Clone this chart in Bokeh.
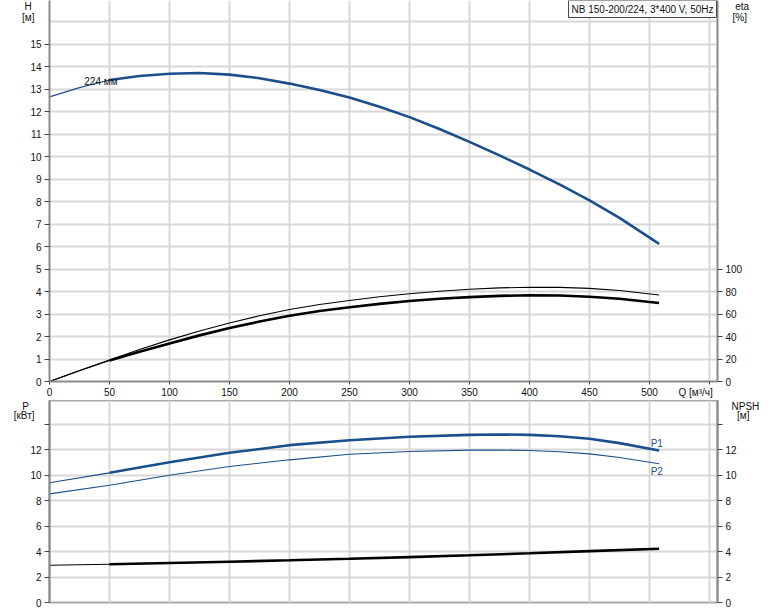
from bokeh.plotting import figure
from bokeh.models import Range1d, LinearAxis, FixedTicker, Label
from bokeh.layouts import column
from bokeh.embed import file_html
from bokeh.resources import INLINE

# ---------------- data ----------------
q_head = [0, 25, 50, 75, 100, 125, 150, 175, 200, 225, 250, 275, 300, 325, 350, 375, 400, 425, 450, 475, 508]
head = [12.65, 13.06, 13.4, 13.58, 13.68, 13.71, 13.64, 13.48, 13.24, 12.96, 12.62, 12.21, 11.75, 11.22, 10.65, 10.05, 9.42, 8.76, 8.05, 7.27, 6.12]

q_eta = [0, 25, 50, 75, 100, 125, 150, 175, 200, 225, 250, 275, 300, 325, 350, 375, 400, 425, 450, 475, 508]
eta_upper = [0, 9.8, 19.2, 28.4, 37.0, 44.9, 52.0, 58.4, 64.0, 68.4, 72.0, 75.3, 78.0, 80.2, 82.0, 83.2, 83.8, 83.7, 82.8, 80.9, 76.9]
eta_lower = [0, 9.5, 18.6, 26.5, 33.8, 41.0, 47.5, 53.3, 58.5, 62.6, 66.0, 69.0, 71.5, 73.5, 75.0, 76.1, 76.7, 76.5, 75.4, 73.5, 69.8]

q_pow = [0, 50, 100, 150, 200, 250, 300, 350, 375, 400, 425, 450, 475, 508]
p1_vals = [9.39, 10.17, 11.0, 11.74, 12.34, 12.73, 13.0, 13.15, 13.18, 13.15, 13.04, 12.84, 12.5, 11.92]
p2_vals = [8.52, 9.2, 9.98, 10.67, 11.19, 11.63, 11.84, 11.95, 11.96, 11.92, 11.82, 11.66, 11.37, 10.88]

q_npsh = [0, 50, 100, 150, 200, 250, 300, 350, 400, 450, 508]
npsh = [2.92, 3.0, 3.1, 3.2, 3.31, 3.43, 3.56, 3.7, 3.86, 4.03, 4.22]

q_ticks = [0, 50, 100, 150, 200, 250, 300, 350, 400, 450, 500, 550]
h_ticks = list(range(0, 16))
eta_ticks = [0, 20, 40, 60, 80, 100]
p_ticks = [0, 2, 4, 6, 8, 10, 12, 14]

title_text = "NB 150-200/224, 3*400 V, 50Hz"
curve_label = "224 мм"
q_label = "Q [м³/ч]"
NB = "\u00a0"

# ---------------- style ----------------
FONT = "Liberation Sans"
FS = "10px"
BLUE = "#1a4f8b"
BLACK = "#000000"
GRID = "#d8d8d8"
AXIS = "#8a8a8a"
THICK = 2.6
THIN = 1.1
W = 766
BL, BR = 49, 49

x_end = (W - BL - BR) / 1.2


def style_axis(ax, line_color=AXIS):
    ax.axis_line_color = line_color
    ax.axis_line_width = 2
    ax.major_tick_line_color = "#444444"
    ax.major_tick_out = 5
    ax.major_tick_in = 0
    ax.minor_tick_line_color = None
    ax.major_label_text_font = FONT
    ax.major_label_text_font_size = FS
    ax.major_label_text_color = "#111111"
    ax.major_label_standoff = 3


def label_axis(p, side, ticks, texts, standoff=0, y_range_name="default"):
    ax = LinearAxis(y_range_name=y_range_name, ticker=FixedTicker(ticks=ticks),
                    major_label_overrides=dict(zip(ticks, texts)))
    ax.axis_line_color = None
    ax.major_tick_line_color = None
    ax.minor_tick_line_color = None
    ax.major_tick_out = 0
    ax.major_tick_in = 0
    ax.major_label_standoff = standoff
    ax.major_label_text_font = FONT
    ax.major_label_text_font_size = FS
    ax.major_label_text_color = "#111111"
    p.add_layout(ax, side)
    return ax


def thick_part(qs, vs, start=50):
    xs = [q for q in qs if q >= start]
    ys = [v for q, v in zip(qs, vs) if q >= start]
    return xs, ys


def data_label(p, x, y, text, align="left", color="#111111"):
    p.add_layout(Label(x=x, y=y, text=text, text_align=align, text_baseline="middle",
                       text_font=FONT, text_font_size=FS, text_color=color))


# ---------------- top figure (H / eta) ----------------
H1 = 400
BB1 = 19
y1_end = (H1 - BB1) / 22.5
p = figure(width=W, height=H1, output_backend="svg", toolbar_location=None,
           x_range=Range1d(0, x_end), y_range=Range1d(0, y1_end),
           min_border_left=BL, min_border_right=BR, min_border_top=0, min_border_bottom=BB1)
p.outline_line_color = None

p.extra_y_ranges = {"eta": Range1d(0, y1_end * 20)}
eta_axis = LinearAxis(y_range_name="eta")
p.add_layout(eta_axis, "right")

p.xaxis.ticker = FixedTicker(ticks=q_ticks)
p.xaxis.major_label_overrides = {550: q_label + NB * 10}
p.yaxis.ticker = FixedTicker(ticks=h_ticks)
eta_axis.ticker = FixedTicker(ticks=eta_ticks)
for ax in [p.xaxis[0], p.yaxis[0], eta_axis]:
    style_axis(ax)
p.xaxis.major_tick_out = 3
p.xaxis.major_label_standoff = 2

label_axis(p, "left", [16.7, 16.2], ["H" + NB, "[м]"], standoff=-7)
label_axis(p, "right", [16.7 * 20, 16.2 * 20], [NB + "eta", "[%]"], standoff=-13, y_range_name="eta")

p.xgrid.ticker = FixedTicker(ticks=q_ticks[1:])
p.ygrid.ticker = FixedTicker(ticks=list(range(1, 17)))
p.xgrid.grid_line_color = GRID
p.ygrid.grid_line_color = GRID
p.xgrid.grid_line_width = 2
p.ygrid.grid_line_width = 2

# head curve
p.line(q_head, head, line_color=BLUE, line_width=THIN)
xs, ys = thick_part(q_head, head)
p.line(xs, ys, line_color=BLUE, line_width=THICK)

# efficiency curves
p.line(q_eta, eta_upper, line_color=BLACK, line_width=THIN, y_range_name="eta")
p.line(q_eta, eta_lower, line_color=BLACK, line_width=THIN, y_range_name="eta")
xs, ys = thick_part(q_eta, eta_lower)
p.line(xs, ys, line_color=BLACK, line_width=THICK, y_range_name="eta")

data_label(p, 29, 13.34, curve_label)

p.add_layout(Label(x=716, y=0, x_units="canvas", y_units="canvas", text=title_text,
                   text_align="right", text_baseline="top",
                   text_font=FONT, text_font_size=FS, text_color="#111111",
                   background_fill_color="white", border_line_color="#444444",
                   border_line_width=1, padding=3))

# ---------------- bottom figure (P / NPSH) ----------------
H2 = 210
BB2 = 8
y2_end = (H2 - BB2) / 12.75
p2 = figure(width=W, height=H2, output_backend="svg", toolbar_location=None,
            x_range=Range1d(0, x_end), y_range=Range1d(0, y2_end),
            min_border_left=BL, min_border_right=BR, min_border_top=0, min_border_bottom=BB2)
p2.outline_line_color = "#a8a8a8"
p2.outline_line_width = 2
p2.xaxis.visible = False

p2.extra_y_ranges = {"npsh": Range1d(0, y2_end)}
npsh_axis = LinearAxis(y_range_name="npsh")
p2.add_layout(npsh_axis, "right")

p2.yaxis.ticker = FixedTicker(ticks=p_ticks)
npsh_axis.ticker = FixedTicker(ticks=p_ticks)
for ax in [p2.yaxis[0], npsh_axis]:
    style_axis(ax)
    ax.major_label_overrides = {14: ""}

label_axis(p2, "left", [15.5, 14.65], ["P" + NB * 2, "[кВт]"], standoff=-7)
label_axis(p2, "right", [15.5, 14.65], ["NPSH", NB * 2 + "[м]"], standoff=-8, y_range_name="npsh")

p2.xgrid.ticker = FixedTicker(ticks=q_ticks[1:])
p2.ygrid.ticker = FixedTicker(ticks=p_ticks[1:])
p2.xgrid.grid_line_color = GRID
p2.ygrid.grid_line_color = GRID
p2.xgrid.grid_line_width = 2
p2.ygrid.grid_line_width = 2

p2.line(q_pow, p1_vals, line_color=BLUE, line_width=THIN)
xs, ys = thick_part(q_pow, p1_vals)
p2.line(xs, ys, line_color=BLUE, line_width=THICK)
p2.line(q_pow, p2_vals, line_color=BLUE, line_width=THIN)

p2.line(q_npsh, npsh, line_color=BLACK, line_width=THIN, y_range_name="npsh")
xs, ys = thick_part(q_npsh, npsh)
p2.line(xs, ys, line_color=BLACK, line_width=THICK, y_range_name="npsh")

data_label(p2, 501, 12.45, "P1", color=BLUE)
data_label(p2, 501, 10.25, "P2", color=BLUE)

layout = column(p, p2, spacing=0)
open("out.html", "w").write(file_html(layout, INLINE))
